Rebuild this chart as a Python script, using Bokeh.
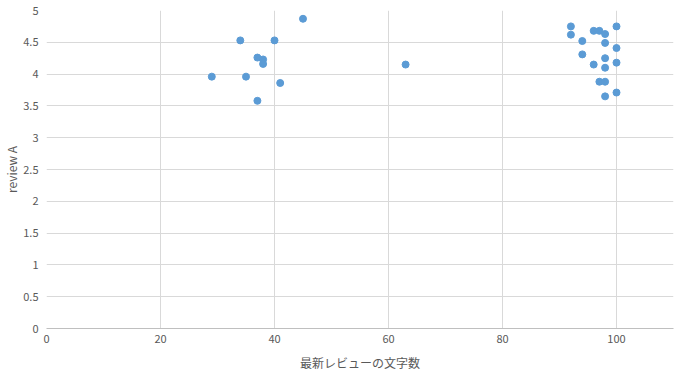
from bokeh.plotting import figure
from bokeh.models import ColumnDataSource, FixedTicker, Range1d
from bokeh.embed import file_html
from bokeh.resources import INLINE

x_vals = [29, 34, 35, 37, 38, 38, 37, 40, 41, 45, 63,
          92, 92, 94, 94, 96, 97, 98, 98, 100, 100, 96, 98, 98, 100, 97, 98, 100, 98]
y_vals = [3.96, 4.53, 3.96, 4.26, 4.23, 4.16, 3.58, 4.53, 3.86, 4.87, 4.15,
          4.75, 4.62, 4.52, 4.31, 4.68, 4.68, 4.63, 4.49, 4.75, 4.41, 4.15, 4.25, 4.10, 4.18, 3.88, 3.88, 3.71, 3.65]
x_ticks = [0, 20, 40, 60, 80, 100]
y_ticks = [0, 0.5, 1, 1.5, 2, 2.5, 3, 3.5, 4, 4.5, 5]
y_tick_labels = ["0", "0.5", "1", "1.5", "2", "2.5", "3", "3.5", "4", "4.5", "5"]
x_label = "最新レビューの文字数"
y_label = "review A"

src = ColumnDataSource(data=dict(x=x_vals, y=y_vals))

p = figure(width=679, height=373, output_backend="svg", toolbar_location=None,
           x_range=Range1d(0, 110), y_range=Range1d(0, 5),
           min_border_left=40, min_border_right=6, min_border_top=10, min_border_bottom=40)
p.outline_line_color = None
p.scatter("x", "y", source=src, size=7, color="#5B9BD5", line_color="#5B9BD5")

font = "Noto Sans CJK JP"
p.xaxis.ticker = FixedTicker(ticks=x_ticks)
p.yaxis.ticker = FixedTicker(ticks=y_ticks)
p.yaxis.major_label_overrides = {t: l for t, l in zip(y_ticks, y_tick_labels)}
p.xaxis.major_label_overrides = {t: str(t) for t in x_ticks}

for ax in (p.xaxis, p.yaxis):
    ax.major_tick_line_color = None
    ax.minor_tick_line_color = None
    ax.major_tick_out = 0
    ax.major_tick_in = 0
    ax.minor_tick_out = 0
    ax.minor_tick_in = 0
    ax.major_label_text_color = "#595959"
    ax.major_label_text_font = font
    ax.major_label_text_font_size = "11px"
    ax.axis_label_text_color = "#595959"
    ax.axis_label_text_font = font
    ax.axis_label_text_font_size = "12px"
    ax.axis_label_text_font_style = "normal"

p.yaxis.axis_line_color = None
p.xaxis.axis_line_color = "#BFBFBF"
p.xaxis.axis_label = x_label
p.yaxis.axis_label = y_label
p.xaxis.major_label_standoff = 6
p.yaxis.major_label_standoff = 8
p.xaxis.axis_label_standoff = 8
p.yaxis.axis_label_standoff = 0

p.xgrid.ticker = FixedTicker(ticks=x_ticks)
p.ygrid.ticker = FixedTicker(ticks=y_ticks)
p.xgrid.grid_line_color = "#D9D9D9"
p.ygrid.grid_line_color = "#D9D9D9"

open("out.html", "w").write(file_html(p, INLINE))
